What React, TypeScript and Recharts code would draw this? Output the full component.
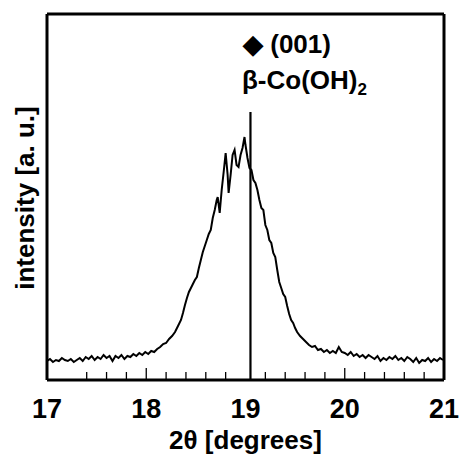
import React from 'react';
import { LineChart, Line, XAxis, YAxis, ReferenceLine } from 'recharts';

const twoTheta: number[] = [
  17.0, 17.03, 17.06, 17.09, 17.12, 17.15, 17.18, 17.21, 17.24, 17.27, 17.3, 17.33, 17.36, 17.39, 17.42, 17.45, 17.48,
  17.51, 17.54, 17.57, 17.6, 17.63, 17.66, 17.69, 17.72, 17.75, 17.78, 17.81, 17.84, 17.87, 17.9, 17.93, 17.96, 17.99,
  18.02, 18.05, 18.08, 18.11, 18.14, 18.17, 18.2, 18.23, 18.26, 18.29, 18.32, 18.35, 18.37, 18.39, 18.41, 18.43, 18.45,
  18.47, 18.49, 18.51, 18.53, 18.55, 18.57, 18.59, 18.61, 18.63, 18.65, 18.67, 18.69, 18.71, 18.72, 18.74, 18.76, 18.78,
  18.8, 18.82, 18.83, 18.85, 18.87, 18.89, 18.91, 18.93, 18.95, 18.97, 18.99, 19.0, 19.02, 19.04, 19.06, 19.08, 19.1,
  19.12, 19.14, 19.16, 19.18, 19.2, 19.22, 19.24, 19.26, 19.28, 19.3, 19.32, 19.34, 19.36, 19.38, 19.4, 19.42, 19.44,
  19.46, 19.48, 19.5, 19.52, 19.55, 19.58, 19.61, 19.64, 19.67, 19.7, 19.73, 19.76, 19.79, 19.82, 19.85, 19.88, 19.91,
  19.94, 19.97, 20.0, 20.03, 20.06, 20.09, 20.12, 20.15, 20.18, 20.21, 20.24, 20.27, 20.3, 20.33, 20.36, 20.39, 20.42,
  20.45, 20.48, 20.51, 20.54, 20.57, 20.6, 20.63, 20.66, 20.69, 20.72, 20.75, 20.78, 20.81, 20.84, 20.87, 20.9, 20.93,
  20.96, 20.99,
];

const intensity: number[] = [
  19, 21, 18, 20, 19, 22, 20, 19, 21, 18, 20, 22, 19, 23, 21, 24, 20,
  23, 21, 25, 22, 24, 19, 24, 22, 25, 21, 24, 23, 26, 24, 27, 25, 28,
  26, 29, 28, 31, 33, 36, 37, 41, 44, 48, 54, 60, 67, 75, 82, 88, 92,
  96, 100, 103, 112, 120, 128, 134, 140, 146, 150, 162, 170, 180, 183, 167, 190, 208,
  227, 205, 187, 205, 225, 230, 215, 213, 225, 232, 243, 235, 222, 212, 210, 200, 197,
  190, 180, 172, 170, 155, 150, 140, 137, 127, 123, 110, 98, 92, 86, 83, 74, 66,
  60, 57, 52, 48, 44, 41, 38, 35, 33, 34, 30, 31, 28, 30, 27, 29, 27,
  33, 28, 27, 25, 28, 24, 26, 23, 25, 22, 25, 23, 21, 24, 19, 22, 20,
  23, 21, 24, 20, 22, 19, 23, 21, 18, 22, 17, 20, 19, 22, 18, 21, 19,
  22, 20,
];

const xTickLabels: number[] = [17, 18, 19, 20, 21];
const minorTicks: number[] = [17.4, 17.6, 17.8, 18.2, 18.4, 18.6, 18.8, 19.2, 19.4, 19.6, 19.8, 20.2, 20.4, 20.6, 20.8];
const majorTicks: number[] = [18, 20];
const peakPosition = 19.05;
const peakMarkerTop = 268;
const xMin = 17;
const xMax = 21;
const yMax = 366;

const data = twoTheta.map((x, i) => ({ x, y: intensity[i] }));

const FONT = '"Liberation Sans", Arial, sans-serif';

export default function App() {
  return (
    <div style={{ position: 'absolute', left: 0, top: 0, width: 462, height: 459, background: '#fff', fontFamily: FONT }}>
      <LineChart width={462} height={459} data={data} margin={{ top: 14, right: 18, left: 47, bottom: 19 }}>
        <XAxis
          dataKey="x"
          type="number"
          domain={[xMin, xMax]}
          ticks={xTickLabels}
          allowDataOverflow
          height={60}
          tickLine={false}
          axisLine={false}
          tickMargin={13}
          tick={{ fontSize: 27, fontWeight: 'bold', fill: '#000', fontFamily: FONT }}
          label={{ value: '2θ [degrees]', position: 'insideBottom', offset: -9, fontSize: 26, fontWeight: 'bold', fill: '#000', fontFamily: FONT }}
        />
        <YAxis type="number" domain={[0, yMax]} hide allowDataOverflow />
        <Line type="linear" dataKey="y" stroke="#000" strokeWidth={2} dot={false} isAnimationActive={false} />
        {minorTicks.map((t) => (
          <ReferenceLine key={'m' + t} segment={[{ x: t, y: 0 }, { x: t, y: 8 }]} stroke="#000" strokeWidth={1.3} />
        ))}
        {majorTicks.map((t) => (
          <ReferenceLine key={'M' + t} segment={[{ x: t, y: 0 }, { x: t, y: 12 }]} stroke="#000" strokeWidth={1.3} />
        ))}
        <ReferenceLine segment={[{ x: peakPosition, y: 0 }, { x: peakPosition, y: peakMarkerTop }]} stroke="#000" strokeWidth={2.2} />
        <ReferenceLine x={xMin} stroke="#000" strokeWidth={3} ifOverflow="visible" />
        <ReferenceLine x={xMax} stroke="#000" strokeWidth={3} ifOverflow="visible" />
        <ReferenceLine y={0} stroke="#000" strokeWidth={3} ifOverflow="visible" />
        <ReferenceLine y={yMax} stroke="#000" strokeWidth={3} ifOverflow="visible" />
      </LineChart>
      <div style={{ position: 'absolute', left: 243, top: 31, fontSize: 26, fontWeight: 'bold', lineHeight: '26px', whiteSpace: 'nowrap', color: '#000' }}>
        ◆ (001)
      </div>
      <div style={{ position: 'absolute', left: 242, top: 67, fontSize: 26, fontWeight: 'bold', lineHeight: '26px', whiteSpace: 'nowrap', color: '#000' }}>
        β-Co(OH)<span style={{ fontSize: 17, position: 'relative', top: 6 }}>2</span>
      </div>
      <div
        style={{
          position: 'absolute',
          left: 25 - 130,
          top: 198 - 15,
          width: 260,
          height: 30,
          lineHeight: '30px',
          textAlign: 'center',
          fontSize: 26,
          fontWeight: 'bold',
          color: '#000',
          transform: 'rotate(-90deg)',
          whiteSpace: 'nowrap',
        }}
      >
        intensity [a. u.]
      </div>
    </div>
  );
}
